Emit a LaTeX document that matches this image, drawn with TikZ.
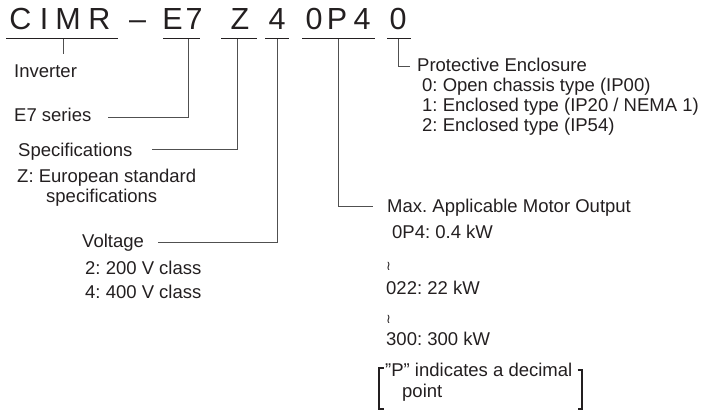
\documentclass[tikz,border=0pt]{standalone}
\usepackage{fontspec}
\setmainfont{Liberation Sans}
\newfontfamily\wavefont{DejaVu Sans}
\definecolor{ink}{HTML}{231F20}
\definecolor{wire}{HTML}{505050}
\frenchspacing
\begin{document}
\begin{tikzpicture}[x=1pt,y=-1pt,
  title/.style={anchor=base,inner sep=0pt,text=ink,font=\fontsize{30.5}{30}\selectfont},
  lbl/.style={anchor=base west,inner sep=0pt,text=ink,font=\fontsize{18.5}{20}\selectfont},
  wavy/.style={anchor=center,inner sep=0pt,text=ink,font=\wavefont\fontsize{13}{13}\selectfont},
  conn/.style={draw=wire,line width=0.9pt},
  uline/.style={draw=ink,line width=1pt},
  brack/.style={draw=ink,line width=2.4pt}]
\useasboundingbox (0,0) rectangle (702,411);
% title characters
\node[title] (tC) at (20.5,29.5) {C};
\node[title] (tI) at (44,29.5) {I};
\node[title] (tM) at (68,29.5) {M};
\node[title] (tR) at (99.5,29.5) {R};
\node[title] (tdash) at (137.5,29.5) {–};
\node[title] (tE) at (172.5,29.5) {E};
\node[title] (t7) at (194,29.5) {7};
\node[title] (tZ) at (240,29.5) {Z};
\node[title] (t4) at (277,29.5) {4};
\node[title] (t0a) at (314,29.5) {0};
\node[title] (tP) at (337,29.5) {P};
\node[title] (t4b) at (362,29.5) {4};
\node[title] (t0b) at (398,29.5) {0};
% underlines
\coordinate (u1a) at (6,39);   \coordinate (u1b) at (118,39);
\coordinate (u2a) at (163,39); \coordinate (u2b) at (200,39);
\coordinate (u3a) at (221,39); \coordinate (u3b) at (257,39);
\coordinate (u4a) at (265,39); \coordinate (u4b) at (289,39);
\coordinate (u5a) at (302,39); \coordinate (u5b) at (375,39);
\coordinate (u6a) at (387,39); \coordinate (u6b) at (411,39);
\draw[uline] (u1a) -- (u1b);
\draw[uline] (u2a) -- (u2b);
\draw[uline] (u3a) -- (u3b);
\draw[uline] (u4a) -- (u4b);
\draw[uline] (u5a) -- (u5b);
\draw[uline] (u6a) -- (u6b);
% labels left
\node[lbl] (inv) at (14,78) {Inverter};
\node[lbl] (e7s) at (14,122) {E7 series};
\node[lbl] (spec) at (18,157) {Specifications};
\node[lbl] (zeu) at (17,183) {Z: European standard};
\node[lbl] (zsp) at (46,203) {specifications};
\node[lbl] (volt) at (82,248) {Voltage};
\node[lbl] (v2) at (85,275) {2: 200 V class};
\node[lbl] (v4) at (85,299) {4: 400 V class};
% labels right
\node[lbl] (prot) at (417,72) {Protective Enclosure};
\node[lbl] (p0) at (422,92) {0: Open chassis type (IP00)};
\node[lbl] (p1) at (422,112) {1: Enclosed type (IP20 / NEMA 1)};
\node[lbl] (p2) at (422,132) {2: Enclosed type (IP54)};
\node[lbl] (maxo) at (387,213) {Max. Applicable Motor Output};
\node[lbl] (m1) at (392,239) {0P4: 0.4 kW};
\node[wavy] (w1) at (388.5,266) {≀};
\node[lbl] (m2) at (386,295) {022: 22 kW};
\node[wavy] (w2) at (388.5,319) {≀};
\node[lbl] (m3) at (386,346) {300: 300 kW};
\node[lbl] (pd1) at (385,377) {\symbol{34}P\symbol{34} indicates a decimal};
\node[lbl] (pd2) at (402,398) {point};
% connectors
\coordinate (k1a) at (63,39);  \coordinate (k1b) at (63,54);
\draw[conn] (k1a) -- (k1b);
\coordinate (k2a) at (188,39); \coordinate (k2c) at (108,117);
\draw[conn] (k2a) |- (k2c);
\coordinate (k3a) at (237.5,39); \coordinate (k3c) at (152,149);
\draw[conn] (k3a) |- (k3c);
\coordinate (k4a) at (277,39); \coordinate (k4c) at (158,242);
\draw[conn] (k4a) |- (k4c);
\coordinate (k5a) at (338,39); \coordinate (k5c) at (373,206);
\draw[conn] (k5a) |- (k5c);
\coordinate (k6a) at (398,39); \coordinate (k6c) at (410,66);
\draw[conn] (k6a) |- (k6c);
% brackets
\coordinate (bl1) at (383.5,368); \coordinate (bl2) at (379,368);
\coordinate (bl3) at (379,409);   \coordinate (bl4) at (383.5,409);
\draw[brack,line join=miter] (bl1) -- (bl2) -- (bl3) -- (bl4);
\coordinate (br1) at (577.5,370); \coordinate (br2) at (582,370);
\coordinate (br3) at (582,409);   \coordinate (br4) at (577.5,409);
\draw[brack,line join=miter] (br1) -- (br2) -- (br3) -- (br4);
\end{tikzpicture}
\end{document}
